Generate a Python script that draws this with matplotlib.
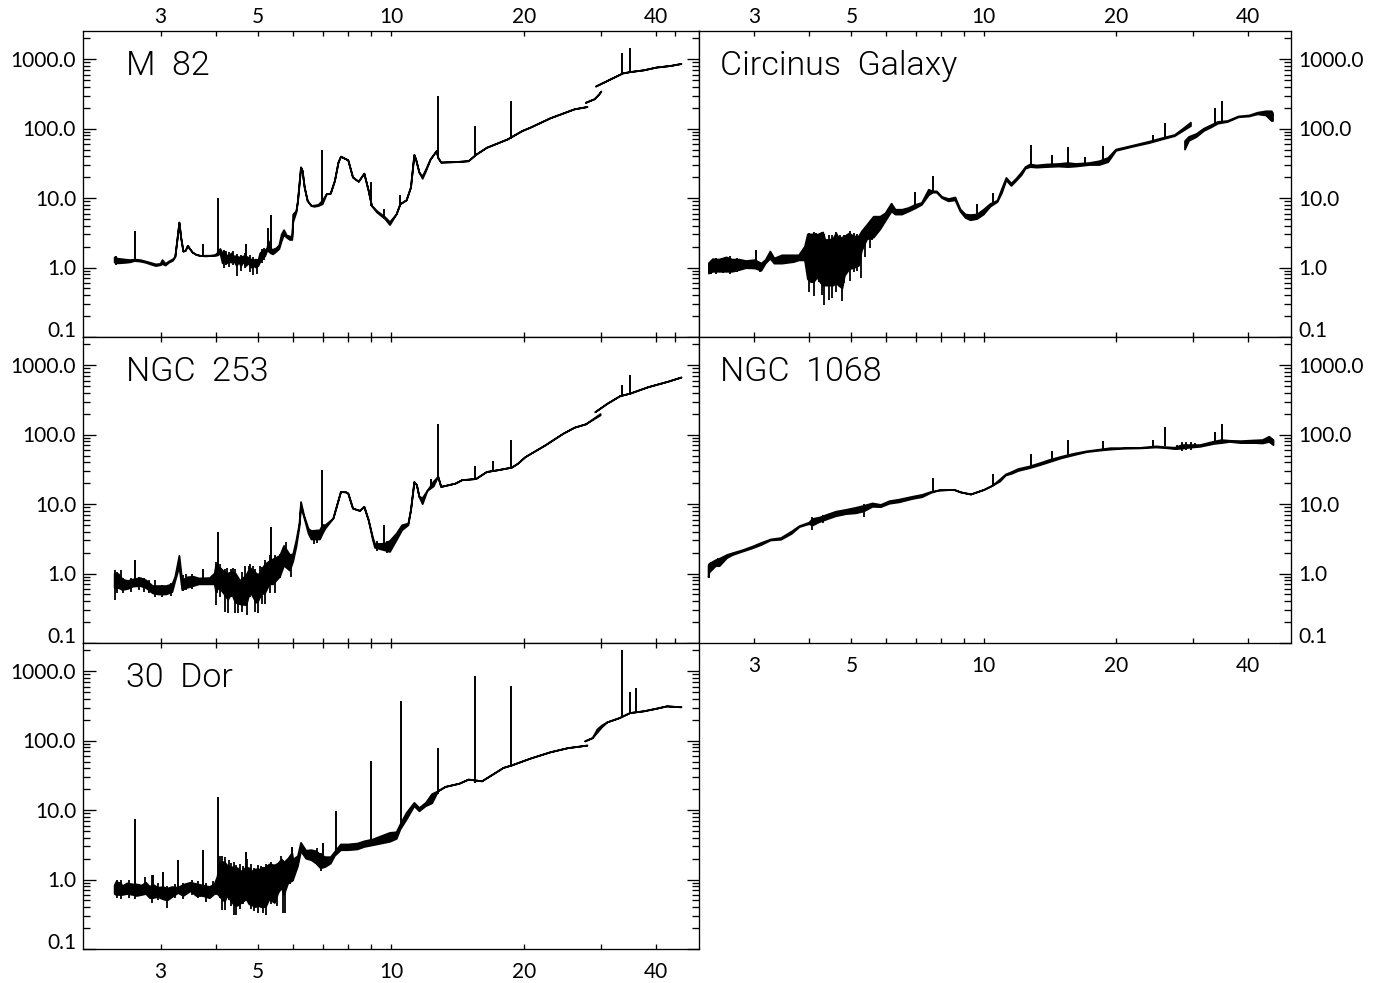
import numpy as np
import matplotlib
matplotlib.use('Agg')
import matplotlib.pyplot as plt

nan = float('nan')

# wavelength (um), lower and upper edge of the spectrum trace (Jy), nan = gap
m82_wave = [2.36, 2.40, 2.45, 2.50, 2.56, 2.62, 2.70, 2.78, 2.86, 2.93, 3.00, 3.03, 3.08, 3.14, 3.20, 3.24, 3.28, 3.31, 3.34, 3.38,
            3.42, 3.46, 3.50, 3.55, 3.62, 3.70, 3.80, 3.90, 4.00, 4.05, 4.10, 4.15, 4.19, 4.24, 4.29, 4.35, 4.40, 4.47, 4.52, 4.57,
            4.63, 4.69, 4.75, 4.82, 4.88, 4.94, 5.00, 5.05, 5.12, 5.18, 5.24, 5.28, 5.34, 5.40, 5.50, 5.58, 5.65, 5.72, 5.80, 5.90,
            5.97, 6.00, 6.10, 6.15, 6.20, 6.25, 6.30, 6.37, 6.47, 6.60, 6.70, 6.85, 7.00, 7.15, 7.30, 7.46, 7.60, 7.70, 8.00, 8.20,
            8.45, 8.70, 8.90, 9.05, 9.30, 9.70, 9.95, 10.3, 10.5, 10.85, 11.1, 11.3, 11.4, 11.6, 11.8, 12.0, 12.3, 12.7, 12.8, 13.0,
            14.0, 15.0, 15.6, 16.5, 18.4, 19.9, 20.7, 23.0, 26.1, 27.9, nan,
            27.7, 29.0, 29.7, 30.0, nan,
            29.2, 31.0, 33.6, 34.9, 37.5, 40.1, 43.1, 45.6]
m82_low = [1.18, 1.15, 1.16, 1.17, 1.19, 1.24, 1.22, 1.17, 1.10, 1.05, 1.08, 1.12, 1.07, 1.18, 1.25, 1.42, 2.70, 4.44, 2.70, 1.70,
           1.74, 2.05, 1.84, 1.64, 1.52, 1.47, 1.45, 1.47, 1.47, 1.50, 1.60, 1.15, 1.25, 1.15, 1.20, 1.18, 1.25, 1.05, 1.20, 1.05,
           1.20, 1.05, 1.15, 1.00, 1.05, 1.00, 1.05, 1.20, 1.35, 1.45, 1.75, 1.70, 1.60, 1.55, 1.70, 1.85, 2.40, 2.95, 2.70, 2.50,
           2.50, 4.50, 6.20, 9.00, 15.8, 27.6, 24.7, 14.2, 9.10, 7.71, 7.50, 7.70, 8.20, 11.4, 11.6, 17.7, 32.5, 39.5, 35.0, 19.8,
           17.2, 22.5, 12.7, 7.70, 6.20, 5.00, 4.10, 5.85, 8.15, 9.30, 14.2, 41.8, 36.0, 23.3, 19.0, 24.0, 36.0, 47.6, 38.0, 32.5,
           33.0, 34.0, 42.0, 53.0, 70.0, 93.0, 103, 141, 190, 205, nan,
           236, 266, 312, 342, nan,
           405, 487, 625, 653, 693, 760, 800, 855]
m82_high = [1.40, 1.34, 1.32, 1.30, 1.28, 1.30, 1.28, 1.22, 1.16, 1.11, 1.13, 1.28, 1.13, 1.23, 1.31, 1.42, 2.70, 4.44, 2.70, 1.70,
            1.74, 2.05, 1.84, 1.64, 1.52, 1.47, 1.48, 1.48, 1.52, 1.65, 1.85, 1.60, 1.65, 1.50, 1.45, 1.60, 1.45, 1.45, 1.40, 1.40,
            1.45, 1.45, 1.38, 1.30, 1.28, 1.30, 1.25, 1.60, 1.75, 1.75, 1.90, 2.40, 1.85, 1.80, 1.90, 2.10, 3.00, 3.45, 2.90, 2.80,
            2.75, 5.80, 6.50, 9.00, 15.8, 27.6, 24.7, 14.2, 9.10, 7.71, 7.80, 8.00, 9.20, 11.4, 11.6, 17.7, 32.5, 39.5, 35.0, 19.8,
            17.2, 22.5, 12.7, 7.70, 6.50, 5.30, 4.50, 5.85, 8.15, 9.30, 14.2, 41.8, 36.0, 23.3, 20.5, 25.5, 36.0, 47.6, 38.0, 32.5,
            33.0, 34.0, 42.0, 53.0, 70.0, 93.0, 103, 141, 190, 205, nan,
            236, 266, 312, 342, nan,
            405, 487, 625, 653, 693, 760, 800, 855]
m82_line_wave = [2.62, 3.74, 4.05, 4.69, 5.26, 5.34, 6.98, 9.00, 9.66, 10.5, 12.8, 15.55, 18.7, 33.5, 34.85]
m82_line_base = [1.25, 1.47, 1.50, 1.20, 1.70, 1.70, 8.50, 7.70, 5.00, 8.00, 38.0, 42.0, 72.0, 620, 650]
m82_line_peak = [3.40, 2.17, 10.2, 2.20, 3.76, 5.70, 48.6, 17.0, 6.90, 11.1, 293, 108, 248, 1213, 1440]
# noise strokes
m82_spike_wave = [2.38, 4.17, 4.22, 4.29, 4.38, 4.47, 4.57, 4.66, 4.78, 4.86, 4.97, 5.09, 5.16]
m82_spike_low = [1.10, 0.98, 1.10, 1.02, 1.08, 0.76, 0.88, 1.00, 0.85, 0.78, 0.82, 1.15, 1.30]
m82_spike_high = [1.47, 1.80, 1.75, 1.70, 1.72, 1.55, 1.50, 1.60, 1.50, 1.42, 1.35, 1.84, 1.94]

ngc253_wave = [2.36, 2.38, 2.41, 2.46, 2.53, 2.60, 2.70, 2.78, 2.88, 2.97, 3.09, 3.19, 3.24, 3.31, 3.36, 3.44, 3.56, 3.67, 3.88, 3.98,
               4.01, 4.05, 4.10, 4.19, 4.27, 4.35, 4.44, 4.55, 4.70, 4.79, 4.95, 5.00, 5.08, 5.18, 5.30, 5.40, 5.60, 5.72, 5.90, 6.00,
               6.10, 6.20, 6.25, 6.35, 6.50, 6.60, 6.90, 7.00, 7.10, 7.40, 7.70, 7.90, 8.00, 8.20, 8.50, 8.70, 8.90, 9.10, 9.20, 9.70,
               9.95, 10.3, 10.6, 10.95, 11.1, 11.3, 11.45, 11.6, 11.8, 12.1, 12.5, 12.8, 13.0, 14.0, 14.5, 15.6, 16.5, 17.4, 18.8, 19.4,
               20.2, 22.4, 24.6, 26.1, 27.7, 29.9, nan,
               29.1, 31.0, 33.1, 34.9, 38.4, 42.6, 45.6]
ngc253_low = [0.62, 0.60, 0.62, 0.58, 0.60, 0.65, 0.66, 0.62, 0.52, 0.50, 0.50, 0.54, 0.78, 1.25, 0.58, 0.62, 0.66, 0.70, 0.70, 0.70,
              0.55, 0.60, 0.60, 0.50, 0.42, 0.52, 0.38, 0.36, 0.35, 0.55, 0.38, 0.40, 0.50, 0.52, 0.70, 0.70, 0.90, 1.30, 1.10, 1.50,
              2.42, 4.69, 9.10, 6.53, 3.76, 3.10, 3.10, 3.76, 4.44, 6.18, 15.0, 14.8, 14.2, 8.61, 8.00, 9.10, 5.85, 3.02, 2.35, 2.15,
              2.05, 3.02, 4.20, 4.96, 8.15, 20.8, 18.7, 12.7, 10.0, 15.5, 18.0, 24.7, 17.7, 19.7, 22.1, 23.0, 29.0, 30.6, 33.5, 38.0,
              47.6, 70.0, 103, 126, 141, 190, nan,
              211, 279, 358, 390, 484, 580, 665]
ngc253_high = [1.00, 0.98, 0.98, 0.82, 0.78, 0.82, 0.86, 0.80, 0.66, 0.66, 0.66, 0.70, 0.90, 1.80, 0.78, 0.88, 0.90, 0.85, 0.86, 1.00,
               1.30, 1.25, 1.20, 1.05, 1.00, 1.05, 1.00, 0.78, 0.95, 1.20, 1.00, 0.95, 1.10, 1.35, 1.50, 1.60, 1.80, 2.50, 1.85, 1.90,
               3.00, 5.24, 10.7, 6.90, 4.40, 4.10, 4.20, 5.00, 4.96, 6.18, 15.0, 14.8, 14.2, 8.61, 8.00, 9.10, 5.85, 3.30, 2.65, 2.70,
               2.95, 3.76, 4.96, 5.24, 8.15, 20.8, 18.7, 12.7, 12.2, 15.5, 21.0, 24.7, 17.7, 19.7, 22.1, 23.0, 29.0, 30.6, 33.5, 38.0,
               47.6, 70.0, 103, 126, 141, 198, nan,
               211, 279, 358, 390, 484, 580, 665]
ngc253_line_wave = [2.62, 3.74, 4.05, 5.34, 6.98, 9.66, 12.3, 12.8, 15.55, 17.0, 18.7, 33.5, 34.85]
ngc253_line_base = [0.80, 0.85, 0.90, 1.30, 4.40, 2.60, 17.0, 22.0, 22.0, 30.0, 33.0, 355, 385]
ngc253_line_peak = [1.56, 1.18, 3.98, 4.69, 31.4, 5.00, 23.0, 141, 35.0, 42.0, 83.0, 514, 720]
ngc253_spike_wave = [2.37, 2.39, 2.44, 2.47, 2.57, 2.68, 2.75, 2.83, 2.92, 3.03, 3.16, 3.38, 3.42, 3.53, 4.00, 4.03, 4.09, 4.14, 4.20, 4.24, 4.27, 4.33,
                     4.38, 4.42, 4.49, 4.60, 4.66, 4.70, 4.75, 4.79, 4.86, 4.92, 5.00, 5.04, 5.09, 5.18, 5.31, 5.45, 5.60, 5.78, 5.94, 6.70, 6.80, 9.30, 9.80]
ngc253_spike_low = [0.41, 0.52, 0.60, 0.52, 0.55, 0.58, 0.55, 0.52, 0.46, 0.46, 0.47, 0.56, 0.58, 0.60, 0.35, 0.52, 0.46, 0.80, 0.28, 0.50, 0.27, 0.46,
                    0.55, 0.27, 0.27, 0.28, 0.45, 0.25, 0.60, 0.46, 0.55, 0.28, 0.27, 0.50, 0.37, 0.37, 0.52, 0.52, 0.85, 1.39, 0.90, 2.70, 2.80, 2.10, 2.00]
ngc253_spike_high = [1.14, 1.06, 1.12, 0.85, 0.86, 0.90, 0.85, 0.82, 0.80, 0.68, 0.73, 0.95, 0.98, 0.98, 1.47, 1.39, 1.39, 1.12, 1.18, 1.20, 1.00, 1.18,
                     1.22, 1.18, 0.76, 1.06, 1.30, 1.00, 1.30, 1.39, 1.30, 1.18, 1.00, 1.30, 1.25, 1.56, 1.84, 1.84, 1.94, 2.86, 1.94, 4.20, 4.30, 2.90, 2.90]

dor_wave = [2.36, 2.38, 2.44, 2.46, 2.52, 2.60, 2.65, 2.72, 2.78, 2.84, 2.88, 2.96, 3.04, 3.11, 3.19, 3.29, 3.38, 3.51, 3.62, 3.74,
            3.88, 3.98, 4.04, 4.08, 4.14, 4.20, 4.25, 4.33, 4.42, 4.49, 4.58, 4.70, 4.77, 4.86, 4.93, 5.00, 5.08, 5.20, 5.30, 5.45,
            5.55, 5.65, 5.72, 5.85, 5.97, 6.00, 6.15, 6.25, 6.42, 6.60, 6.77, 6.93, 7.10, 7.30, 7.46, 7.70, 8.00, 8.40, 8.70, 9.10,
            9.50, 9.95, 10.3, 10.5, 10.85, 11.3, 11.6, 12.0, 12.4, 12.8, 13.3, 14.3, 15.0, 16.1, 16.9, 18.0, 18.8, 20.7, 23.0, 25.2,
            27.9, nan,
            27.6, 28.7, 29.4, 30.1, 31.0, 33.0, 34.9, 37.5, 40.1, 42.3, 45.6]
dor_low = [0.62, 0.60, 0.60, 0.60, 0.62, 0.60, 0.58, 0.60, 0.62, 0.54, 0.54, 0.56, 0.52, 0.50, 0.56, 0.64, 0.58, 0.68, 0.58, 0.58,
           0.54, 0.62, 0.62, 0.58, 0.52, 0.48, 0.58, 0.50, 0.42, 0.42, 0.46, 0.52, 0.44, 0.42, 0.40, 0.42, 0.40, 0.40, 0.52, 0.46,
           0.64, 0.76, 0.60, 0.90, 0.95, 1.00, 1.56, 2.56, 2.00, 1.90, 1.70, 1.45, 1.52, 1.70, 2.20, 2.65, 2.65, 2.72, 2.95, 3.12,
           3.30, 3.50, 3.85, 5.24, 7.30, 11.4, 9.62, 11.4, 12.5, 18.7, 21.6, 24.0, 27.5, 26.0, 31.5, 40.5, 44.0, 55.0, 68.0, 78.0,
           85.0, nan,
           98.0, 109, 130, 155, 184, 211, 250, 265, 289, 312, 303]
dor_high = [0.82, 0.92, 0.88, 0.80, 0.88, 0.85, 0.85, 0.82, 0.90, 0.78, 0.85, 0.76, 0.78, 0.74, 0.78, 0.76, 0.84, 0.90, 0.86, 0.82,
            0.78, 0.86, 1.10, 1.70, 1.80, 1.75, 1.60, 1.50, 1.50, 1.45, 1.30, 1.50, 1.45, 1.30, 1.40, 1.40, 1.40, 1.50, 1.65, 1.60,
            1.70, 1.95, 1.75, 2.00, 2.40, 1.94, 2.17, 3.37, 2.60, 2.65, 2.55, 2.25, 2.10, 2.10, 2.50, 3.20, 3.20, 3.30, 3.55, 3.78,
            4.20, 4.70, 4.80, 6.18, 9.10, 12.7, 10.7, 12.7, 17.0, 18.7, 21.6, 24.0, 27.5, 26.0, 31.5, 40.5, 44.0, 55.0, 68.0, 78.0,
            85.0, nan,
            98.0, 109, 145, 165, 184, 211, 250, 265, 289, 312, 303]
dor_line_wave = [2.62, 2.88, 3.04, 3.29, 3.74, 4.05, 4.69, 5.95, 7.00, 7.50, 9.00, 10.54, 12.8, 15.55, 18.7, 33.5, 34.8, 36.0]
dor_line_base = [0.80, 0.80, 0.75, 0.75, 0.75, 0.80, 1.20, 2.00, 2.00, 2.50, 3.20, 6.00, 17.0, 25.0, 42.0, 215, 245, 260]
dor_line_peak = [7.55, 1.18, 1.28, 1.90, 2.65, 15.3, 2.48, 2.90, 3.37, 9.60, 51.0, 370, 78.0, 850, 606, 2050, 500, 570]
dor_spike_wave = [2.39, 2.44, 2.55, 2.62, 2.76, 2.87, 2.96, 3.10, 3.23, 3.38, 3.53, 3.65, 3.80, 3.95, 4.09, 4.13, 4.20, 4.28, 4.34, 4.40, 4.45,
                  4.54, 4.62, 4.70, 4.80, 4.88, 4.98, 5.06, 5.13, 5.21, 5.35, 5.50, 5.63, 5.70, 5.76, 5.90, 6.00, 6.80, 6.93]
dor_spike_low = [0.55, 0.52, 0.55, 0.52, 0.60, 0.46, 0.50, 0.39, 0.55, 0.52, 0.60, 0.55, 0.47, 0.58, 0.55, 0.37, 0.37, 0.50, 0.42, 0.31, 0.31,
                 0.38, 0.44, 0.50, 0.38, 0.35, 0.33, 0.42, 0.33, 0.31, 0.45, 0.42, 0.76, 0.33, 0.33, 0.85, 0.95, 1.60, 1.32]
dor_spike_high = [1.00, 1.00, 1.00, 0.90, 1.09, 1.18, 0.90, 0.80, 0.85, 0.88, 1.00, 0.95, 0.90, 0.95, 2.17, 2.20, 2.10, 1.90, 1.75, 1.80, 1.60,
                  1.70, 1.55, 2.00, 1.70, 1.45, 1.60, 1.55, 1.50, 1.70, 1.80, 1.70, 2.20, 1.90, 1.50, 2.20, 2.00, 2.86, 2.42]

circinus_wave = [2.37, 2.42, 2.50, 2.60, 2.68, 2.78, 2.88, 3.02, 3.12, 3.19, 3.27, 3.34, 3.48, 3.70, 3.80, 3.92, 3.98, 4.04, 4.11, 4.18,
                 4.26, 4.31, 4.37, 4.47, 4.55, 4.62, 4.68, 4.77, 4.83, 4.95, 5.06, 5.20, 5.28, 5.43, 5.62, 5.82, 5.98, 6.17, 6.30, 6.52,
                 6.75, 6.99, 7.23, 7.50, 7.66, 7.82, 8.04, 8.32, 8.62, 8.85, 9.09, 9.33, 9.66, 10.0, 10.35, 10.75, 11.0, 11.26, 11.56, 11.86,
                 12.2, 12.45, 12.76, 13.2, 13.9, 14.8, 15.55, 16.2, 17.4, 18.35, 19.2, 20.0, 21.85, 23.8, 25.9, 27.2, 28.2, 29.6, nan,
                 28.7, 29.3, 30.5, 31.7, 33.0, 34.1, 35.9, 38.0, 40.2, 42.0, 43.9, 45.2, 45.5]
circinus_low = [0.82, 0.87, 0.87, 0.87, 0.87, 0.92, 0.98, 0.97, 0.90, 1.14, 1.34, 1.14, 1.14, 1.20, 1.27, 1.27, 0.68, 0.62, 0.62, 0.72,
                0.60, 0.55, 0.55, 0.55, 0.55, 0.60, 0.55, 0.50, 0.76, 0.95, 0.98, 1.06, 1.74, 2.56, 2.70, 3.56, 4.69, 6.40, 5.80, 5.80,
                6.40, 7.10, 8.00, 11.0, 12.0, 12.0, 10.0, 9.00, 9.30, 6.40, 5.20, 4.80, 5.00, 5.80, 7.50, 8.80, 11.8, 18.0, 15.0, 17.7,
                21.5, 26.5, 28.0, 27.5, 28.0, 28.5, 28.0, 28.5, 30.0, 30.0, 33.0, 47.9, 55.0, 62.0, 72.0, 78.0, 90.0, 109, nan,
                50.0, 66.6, 76.0, 92.7, 105, 118, 125, 146, 150, 161, 155, 129, 129]
circinus_high = [1.15, 1.32, 1.30, 1.40, 1.30, 1.30, 1.24, 1.28, 1.14, 1.28, 1.70, 1.35, 1.50, 1.50, 1.50, 2.00, 3.00, 3.00, 3.00, 2.95,
                 3.10, 3.20, 2.40, 2.50, 2.60, 3.10, 2.65, 2.70, 2.80, 3.10, 2.80, 2.80, 3.30, 4.10, 5.40, 5.40, 6.05, 8.30, 6.80, 6.80,
                 7.20, 8.00, 8.50, 13.2, 12.5, 12.5, 10.4, 9.70, 10.2, 6.90, 5.80, 5.70, 5.80, 6.80, 8.20, 9.20, 13.5, 19.5, 16.2, 19.0,
                 23.5, 28.0, 30.5, 29.5, 30.5, 31.0, 32.0, 31.0, 32.0, 34.0, 38.0, 50.0, 57.0, 65.0, 75.0, 81.0, 96.0, 122, nan,
                 66.0, 76.0, 84.0, 100, 113, 125, 129, 150, 155, 170, 178, 178, 166]
circinus_line_wave = [3.03, 6.97, 7.66, 9.66, 10.5, 12.8, 14.3, 15.55, 17.0, 18.7, 24.3, 25.9, 33.5, 34.9]
circinus_line_base = [1.20, 7.30, 12.0, 5.50, 8.00, 30.0, 30.0, 30.0, 30.0, 32.0, 65.0, 75.0, 120, 125]
circinus_line_peak = [1.80, 12.2, 20.8, 8.20, 12.0, 58.0, 42.0, 55.0, 39.0, 57.0, 80.0, 122, 200, 250]
circinus_spike_wave = [2.39, 2.46, 2.55, 2.64, 2.74, 3.10, 4.00, 4.07, 4.11, 4.15, 4.22, 4.29, 4.34, 4.40, 4.44, 4.52, 4.60, 4.70, 4.75, 4.80, 4.95, 5.06, 5.15, 5.25, 5.36, 5.50, 5.57]
circinus_spike_low = [0.80, 0.82, 0.84, 0.82, 0.86, 0.85, 0.45, 0.60, 0.39, 0.70, 0.62, 0.40, 0.29, 0.55, 0.34, 0.36, 0.45, 0.55, 0.33, 0.60, 0.65, 0.85, 0.90, 0.70, 1.40, 1.90, 2.50]
circinus_spike_high = [1.20, 1.39, 1.37, 1.47, 1.37, 1.18, 3.10, 3.05, 3.20, 3.10, 3.07, 3.20, 3.00, 2.60, 2.90, 2.90, 3.30, 2.90, 2.80, 2.90, 3.40, 3.10, 3.00, 3.10, 3.70, 4.20, 4.50]

ngc1068_wave = [2.36, 2.37, 2.45, 2.50, 2.60, 2.68, 2.82, 2.98, 3.11, 3.27, 3.45, 3.65, 3.80, 4.00, 4.07, 4.22, 4.41, 4.60, 4.85, 5.11,
                5.33, 5.57, 5.82, 6.09, 6.41, 6.88, 7.23, 7.56, 7.90, 8.54, 8.85, 9.33, 10.0, 10.45, 10.87, 11.2, 11.56, 11.95, 12.7, 13.4,
                14.1, 15.0, 16.0, 17.1, 18.35, 19.4, 20.8, 22.6, 24.6, 26.0, 27.2, 28.2, 29.3, 31.0, 33.4, 34.7, 36.2, 38.3, 41.3, 43.0,
                44.5, 45.5]
ngc1068_low = [0.90, 1.05, 1.30, 1.30, 1.70, 1.88, 2.10, 2.36, 2.62, 3.05, 3.12, 3.80, 4.75, 5.24, 5.00, 5.60, 6.20, 6.80, 7.30, 7.50,
               8.00, 9.30, 9.20, 10.3, 10.8, 12.1, 12.8, 14.7, 16.0, 16.3, 15.0, 14.0, 16.3, 18.7, 21.5, 26.3, 27.8, 30.5, 33.5, 37.0,
               41.0, 46.5, 51.5, 57.0, 60.0, 62.0, 64.0, 64.5, 66.5, 65.0, 63.0, 64.0, 66.0, 68.0, 75.0, 77.0, 80.0, 77.0, 77.0, 76.0,
               80.0, 72.0]
ngc1068_high = [1.30, 1.40, 1.58, 1.66, 1.88, 2.00, 2.20, 2.50, 2.80, 3.15, 3.30, 4.10, 4.90, 5.50, 6.20, 6.50, 7.20, 7.90, 8.40, 9.00,
                9.60, 10.4, 9.90, 11.2, 11.8, 13.0, 13.8, 15.2, 16.0, 16.3, 15.0, 14.0, 16.3, 18.7, 23.0, 27.2, 29.5, 32.5, 35.5, 39.5,
                44.0, 49.0, 54.0, 58.5, 62.0, 65.0, 65.0, 65.5, 69.0, 67.0, 66.0, 72.0, 72.0, 72.0, 81.0, 85.0, 83.0, 82.0, 84.0, 85.0,
                95.0, 85.0]
ngc1068_line_wave = [7.66, 10.5, 12.8, 14.3, 15.55, 18.7, 24.3, 25.9, 33.5, 34.9]
ngc1068_line_base = [15.0, 18.0, 36.0, 42.0, 48.0, 62.0, 68.0, 68.0, 80.0, 80.0]
ngc1068_line_peak = [24.0, 27.5, 53.0, 58.0, 83.0, 81.0, 85.0, 128, 110, 144]
ngc1068_spike_wave = [2.37, 2.40, 2.48, 4.07, 4.30, 5.33, 27.5, 28.3, 28.9, 29.6, 30.2]
ngc1068_spike_low = [0.85, 1.10, 1.25, 4.30, 5.30, 6.53, 60.0, 58.0, 60.0, 60.0, 64.0]
ngc1068_spike_high = [1.39, 1.47, 1.70, 6.53, 7.00, 10.0, 70.0, 78.0, 78.0, 78.0, 76.0]

x_major = [3, 5, 10, 20, 40]
x_minor = [4, 6, 7, 8, 9, 30]
x_extra = [44.2]  # stray tick on the two upper left panels
y_major = [0.1, 1, 10, 100, 1000]
y_labels = ['0.1', '1.0', '10.0', '100.0', '1000.0']

FIG_W, FIG_H = 1384, 983
plt.rcParams['font.family'] = ['Lato']


def make_axes(x0, x1, y0, y1):
    return fig.add_axes([x0 / FIG_W, 1 - y1 / FIG_H, (x1 - x0) / FIG_W, (y1 - y0) / FIG_H])


def draw_panel(ax, name, spectrum, lines, spikes, xmin, right=False, top_lab=False, bot_lab=False, extra=False):
    wave, low, high = spectrum
    ax.fill_between(wave, low, high, color='k', lw=1.3)
    ax.vlines(lines[0], lines[1], lines[2], color='k', lw=1.4)
    ax.vlines(spikes[0], spikes[1], spikes[2], color='k', lw=1.3)
    ax.set_xscale('log')
    ax.set_yscale('log')
    ax.set_xlim(xmin, 50)
    ax.set_ylim(0.1, 2553)

    ax.set_xticks(x_major)
    ax.set_xticklabels([str(v) for v in x_major])
    ax.set_xticks(x_minor + (x_extra if extra else []), minor=True)
    ax.xaxis.set_minor_formatter(matplotlib.ticker.NullFormatter())
    ax.tick_params(axis='x', which='both', direction='in', top=True, bottom=True, length=3.6, width=0.95,
                   labeltop=top_lab, labelbottom=bot_lab, labelsize=15, pad=3 if top_lab else 9)

    ax.set_yticks(y_major)
    ax.set_yticks([m * 10.0 ** e for e in range(-1, 4) for m in range(2, 10) if m * 10.0 ** e < 2553], minor=True)
    ax.set_yticklabels([])
    ax.yaxis.set_minor_formatter(matplotlib.ticker.NullFormatter())
    ax.tick_params(axis='y', which='major', direction='in', length=9, width=0.95, left=not right, right=True)
    ax.tick_params(axis='y', which='minor', direction='in', length=5, width=0.95, left=not right, right=True)

    for v, s in zip(y_major, y_labels):
        # the bottom label sits a little above its tick
        dy = 4.3 if v == 0.1 else -1
        if right:
            ax.annotate(s, xy=(1, v), xycoords=('axes fraction', 'data'), xytext=(5, dy),
                        textcoords='offset points', ha='left', va='center', fontsize=15)
        else:
            ax.annotate(s, xy=(0, v), xycoords=('axes fraction', 'data'), xytext=(-5, dy),
                        textcoords='offset points', ha='right', va='center', fontsize=15)

    for sp in ax.spines.values():
        sp.set_linewidth(0.95)
    ax.text(2.51, 588, name, fontsize=24.5, va='baseline', family='Roboto', fontweight=300)


fig = plt.figure(figsize=(FIG_W / 100, FIG_H / 100), dpi=100)

ax1 = make_axes(83, 699, 31, 337)
draw_panel(ax1, 'M  82', (m82_wave, m82_low, m82_high), (m82_line_wave, m82_line_base, m82_line_peak),
           (m82_spike_wave, m82_spike_low, m82_spike_high), 2.0, top_lab=True, extra=True)

ax2 = make_axes(83, 699, 337, 643)
draw_panel(ax2, 'NGC  253', (ngc253_wave, ngc253_low, ngc253_high), (ngc253_line_wave, ngc253_line_base, ngc253_line_peak),
           (ngc253_spike_wave, ngc253_spike_low, ngc253_spike_high), 2.0, extra=True)

ax3 = make_axes(83, 699, 643, 949)
draw_panel(ax3, '30  Dor', (dor_wave, dor_low, dor_high), (dor_line_wave, dor_line_base, dor_line_peak),
           (dor_spike_wave, dor_spike_low, dor_spike_high), 2.0, bot_lab=True)

ax4 = make_axes(699, 1291, 31, 337)
draw_panel(ax4, 'Circinus  Galaxy', (circinus_wave, circinus_low, circinus_high),
           (circinus_line_wave, circinus_line_base, circinus_line_peak),
           (circinus_spike_wave, circinus_spike_low, circinus_spike_high), 2.25, right=True, top_lab=True)

ax5 = make_axes(699, 1291, 337, 643)
draw_panel(ax5, 'NGC  1068', (ngc1068_wave, ngc1068_low, ngc1068_high), (ngc1068_line_wave, ngc1068_line_base, ngc1068_line_peak),
           (ngc1068_spike_wave, ngc1068_spike_low, ngc1068_spike_high), 2.25, right=True, bot_lab=True)

fig.savefig('out.png', dpi=100)
